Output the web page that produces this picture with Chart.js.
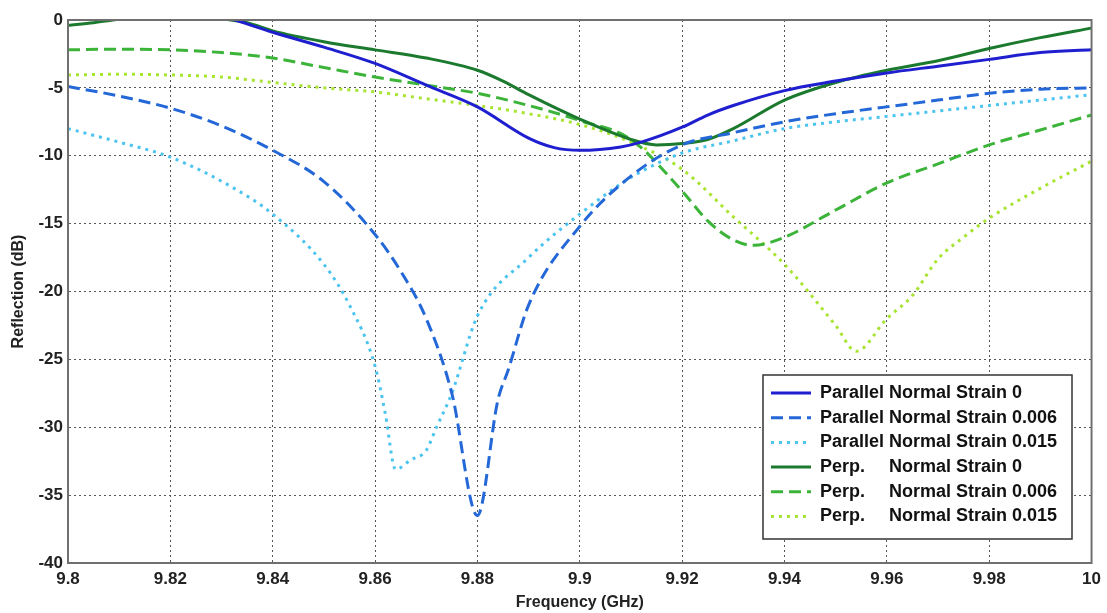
<!DOCTYPE html>
<html>
<head>
<meta charset="utf-8">
<title>Reflection vs Frequency</title>
<script src="https://cdn.jsdelivr.net/npm/chart.js@4"></script>
<style>
    html, body { margin: 0; padding: 0; background: #fff; }
    #wrap { width: 1107px; height: 613px; position: relative; }
</style>
</head>
<body>
<div id="wrap"><canvas id="chart"></canvas></div>
<script>
// Parallel, strain 0
const par0Freq = [9.8, 9.82, 9.83, 9.84, 9.85, 9.86, 9.87, 9.88, 9.89, 9.895, 9.9, 9.908, 9.912, 9.92, 9.925, 9.93, 9.94, 9.95, 9.96, 9.97, 9.98, 9.99, 10];
const par0Refl = [2.0, 1.2, 0.3, -0.9, -2.0, -3.2, -4.8, -6.4, -8.7, -9.4, -9.6, -9.35, -9.0, -7.9, -7.0, -6.3, -5.2, -4.5, -3.9, -3.4, -2.9, -2.4, -2.2];

// Parallel, strain 0.006
const par006Freq = [9.8, 9.81, 9.82, 9.83, 9.84, 9.85, 9.86, 9.865, 9.87, 9.875, 9.88, 9.884, 9.886, 9.89, 9.9, 9.91, 9.92, 9.93, 9.94, 9.95, 9.96, 9.97, 9.98, 9.99, 10];
const par006Refl = [-4.9, -5.6, -6.5, -7.8, -9.6, -11.9, -15.8, -18.5, -22.0, -27.5, -36.5, -28.0, -25.8, -21.0, -15.2, -11.5, -9.2, -8.3, -7.5, -6.9, -6.4, -5.9, -5.4, -5.1, -5.0];

// Parallel, strain 0.015
const par015Freq = [9.8, 9.81, 9.82, 9.832, 9.84, 9.85, 9.855, 9.86, 9.862, 9.864, 9.867, 9.87, 9.872, 9.875, 9.88, 9.89, 9.9, 9.91, 9.92, 9.93, 9.94, 9.95, 9.96, 9.97, 9.98, 9.99, 10];
const par015Refl = [-8.0, -9.0, -10.1, -12.3, -14.3, -18.0, -21.0, -25.5, -29.0, -33.1, -32.4, -31.7, -30.0, -27.5, -21.8, -17.5, -14.3, -11.6, -9.8, -8.9, -8.0, -7.5, -7.1, -6.7, -6.3, -5.9, -5.5];

// Perpendicular, strain 0
const perp0Freq = [9.8, 9.805, 9.81, 9.82, 9.83, 9.835, 9.84, 9.85, 9.86, 9.87, 9.88, 9.885, 9.89, 9.9, 9.91, 9.915, 9.92, 9.925, 9.93, 9.94, 9.95, 9.96, 9.97, 9.98, 9.99, 10];
const perp0Refl = [-0.4, -0.2, 0.05, 0.5, 0.1, -0.2, -0.8, -1.6, -2.2, -2.8, -3.7, -4.5, -5.5, -7.3, -8.8, -9.2, -9.1, -8.8, -8.0, -5.9, -4.6, -3.7, -3.0, -2.1, -1.3, -0.6];

// Perpendicular, strain 0.006
const perp006Freq = [9.8, 9.81, 9.82, 9.83, 9.84, 9.85, 9.86, 9.87, 9.88, 9.89, 9.9, 9.91, 9.92, 9.925, 9.93, 9.934, 9.94, 9.95, 9.96, 9.97, 9.98, 9.99, 10];
const perp006Refl = [-2.2, -2.15, -2.2, -2.4, -2.8, -3.5, -4.2, -4.8, -5.4, -6.3, -7.4, -8.8, -12.6, -14.8, -16.2, -16.6, -16.0, -14.0, -12.0, -10.6, -9.2, -8.1, -7.0];

// Perpendicular, strain 0.015
const perp015Freq = [9.8, 9.81, 9.82, 9.83, 9.84, 9.85, 9.86, 9.87, 9.88, 9.89, 9.9, 9.91, 9.92, 9.93, 9.94, 9.95, 9.954, 9.96, 9.965, 9.97, 9.975, 9.98, 9.99, 10];
const perp015Refl = [-4.05, -4.0, -4.05, -4.2, -4.6, -5.0, -5.3, -5.8, -6.3, -6.9, -7.7, -9.0, -11.0, -14.5, -18.0, -22.5, -24.4, -22.0, -20.3, -17.6, -16.0, -14.6, -12.4, -10.4];

const seriesLabels = [
    'Parallel Normal Strain 0',
    'Parallel Normal Strain 0.006',
    'Parallel Normal Strain 0.015',
    'Perp.    Normal Strain 0',
    'Perp.    Normal Strain 0.006',
    'Perp.    Normal Strain 0.015'
];
const xTicks = [9.8, 9.82, 9.84, 9.86, 9.88, 9.9, 9.92, 9.94, 9.96, 9.98, 10];
const yTicks = [0, -5, -10, -15, -20, -25, -30, -35, -40];

const colors = ['#1f1fd0', '#2468d8', '#4cc4f0', '#1b7a2e', '#3cb43a', '#a8e432'];
const dashes = [[], [12, 6], [3, 5], [], [12, 6], [3, 5]];

function toPoints(xs, ys) {
    return xs.map((x, i) => ({ x: x, y: ys[i] }));
}

const allSeries = [
    toPoints(par0Freq, par0Refl),
    toPoints(par006Freq, par006Refl),
    toPoints(par015Freq, par015Refl),
    toPoints(perp0Freq, perp0Refl),
    toPoints(perp006Freq, perp006Refl),
    toPoints(perp015Freq, perp015Refl)
];

const datasets = allSeries.map((pts, i) => ({
    label: seriesLabels[i],
    data: pts,
    borderColor: colors[i],
    backgroundColor: colors[i],
    borderWidth: 3,
    borderDash: dashes[i],
    pointRadius: 0,
    cubicInterpolationMode: 'monotone',
    fill: false
}));

// frame + legend drawn inside the plot, MATLAB style
const insideLegend = {
    id: 'insideLegend',
    afterDatasetsDraw(chart) {
        const ctx = chart.ctx;
        const a = chart.chartArea;
        ctx.save();
        ctx.strokeStyle = '#707070';
        ctx.lineWidth = 2;
        ctx.strokeRect(a.left, a.top, a.right - a.left, a.bottom - a.top);

        const bx = 763, by = 375, bw = 309, bh = 164, row = 24.7;
        ctx.fillStyle = '#fff';
        ctx.fillRect(bx, by, bw, bh);
        ctx.strokeStyle = '#333';
        ctx.lineWidth = 1.5;
        ctx.strokeRect(bx, by, bw, bh);

        ctx.font = 'bold 18px "Liberation Sans", Arial, sans-serif';
        ctx.textBaseline = 'middle';
        const textX = bx + 57;
        const normalX = textX + ctx.measureText('Parallel ').width;
        chart.data.datasets.forEach((ds, i) => {
            const y = by + 18 + i * row;
            ctx.strokeStyle = ds.borderColor;
            ctx.lineWidth = 3;
            ctx.setLineDash(ds.borderDash);
            ctx.beginPath();
            ctx.moveTo(bx + 8, y);
            ctx.lineTo(bx + 48, y);
            ctx.stroke();
            ctx.setLineDash([]);
            ctx.fillStyle = '#111';
            const parts = ds.label.split(/\s+(?=Normal)/);
            ctx.fillText(parts[0], textX, y);
            ctx.fillText(parts[1], normalX, y);
        });
        ctx.restore();
    }
};

const tickFont = { family: '"Liberation Sans", Arial, sans-serif', size: 17, weight: 'bold' };
const titleFont = { family: '"Liberation Sans", Arial, sans-serif', size: 16, weight: 'bold' };

new Chart(document.getElementById('chart'), {
    type: 'line',
    data: { datasets: datasets },
    options: {
        responsive: true,
        maintainAspectRatio: false,
        animation: false,
        layout: { padding: { top: 20, right: 15, left: 0, bottom: 0 } },
        plugins: {
            legend: { display: false },
            tooltip: { enabled: false }
        },
        scales: {
            x: {
                type: 'linear',
                min: 9.8,
                max: 10,
                afterFit: s => { s.height = 50; },
                afterBuildTicks: s => { s.ticks = xTicks.map(v => ({ value: v })); },
                ticks: {
                    color: '#222',
                    font: tickFont,
                    padding: 6,
                    maxRotation: 0,
                    callback: v => String(Number(v.toFixed(2)))
                },
                grid: { color: '#555', lineWidth: 1, drawTicks: false },
                border: { display: true, color: '#707070', width: 2, dash: [2, 3] },
                title: { display: true, text: 'Frequency (GHz)', color: '#222', font: titleFont, padding: { top: 2, bottom: 1 } }
            },
            y: {
                type: 'linear',
                min: -40,
                max: 0,
                afterFit: s => { s.width = 68; },
                afterBuildTicks: s => { s.ticks = yTicks.map(v => ({ value: v })); },
                ticks: {
                    color: '#222',
                    font: tickFont,
                    padding: 5
                },
                grid: { color: '#555', lineWidth: 1, drawTicks: false },
                border: { display: true, color: '#707070', width: 2, dash: [2, 3] },
                title: { display: true, text: 'Reflection (dB)', color: '#222', font: titleFont, padding: { top: 9, bottom: 0 } }
            }
        }
    },
    plugins: [insideLegend]
});
</script>
</body>
</html>
